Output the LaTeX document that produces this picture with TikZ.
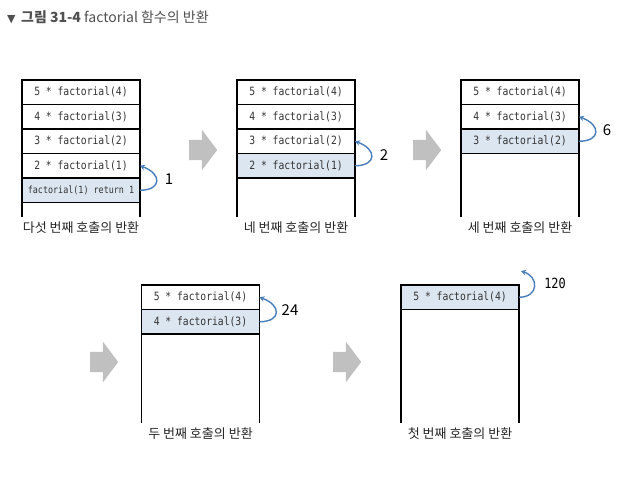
\documentclass[tikz,border=0pt]{standalone}
\usepackage{fontspec}
\usetikzlibrary{positioning}
\usetikzlibrary{arrows.meta}
\usetikzlibrary{shapes.arrows}
\newfontfamily\krfont{Noto Sans CJK KR}
\newfontfamily\codefont{DejaVu Sans Mono}[FakeStretch = 0.85]
\newfontfamily\symfont{DejaVu Sans}
\definecolor{rowblue}{RGB}{220,230,241}
\definecolor{retblue}{RGB}{74,126,187}
\definecolor{stepgray}{RGB}{192,192,192}
\definecolor{titlegray}{RGB}{80,80,80}
\tikzset{
  stackframe/.style = {inner sep = 0, outer sep = 0, minimum width = 118},
  wall/.style = {line width = 1.5},
  row/.style = {draw, line width = 1.5, inner sep = 0, outer sep = 0,
    minimum width = 118, minimum height = 24.5, text = black!80,
    font = \codefont\fontsize{11.4}{12}\selectfont},
  cur/.style = {row, fill = rowblue},
  ret/.style = {line width = 1.4, draw = retblue, -{Stealth[length = 5, width = 5.5]}},
  num/.style = {inner sep = 0, font = \krfont\fontsize{15}{15}\selectfont},
  callcap/.style = {inner sep = 0, text = black!85, font = \krfont\fontsize{13}{13}\selectfont},
  stepper/.style = {single arrow, fill = stepgray, anchor = tail,
    inner xsep = 0, inner ysep = 10, minimum height = 28, minimum width = 0,
    single arrow head extend = 10, single arrow tip angle = 106}
}
\begin{document}
\begin{tikzpicture}[x = 1pt, y = -1pt]
      \useasboundingbox (0, 0) rectangle (631, 481);
      \node [anchor = west, inner sep = 0, text = titlegray, font = \krfont\fontsize{14}{14}\selectfont] (title) at (7, 17)
        {{\symfont\fontsize{11}{11}\selectfont ▼}\, \textbf{그림 31-4} factorial 함수의 반환};

      % first row of stacks
      \node [stackframe, minimum height = 137] (s1) at (81, 148.5) {};
      \node [stackframe, minimum height = 137] (s2) at (296, 148.5) {};
      \node [stackframe, minimum height = 137] (s3) at (520, 148.5) {};
      % second row of stacks
      \node [stackframe, minimum height = 138] (s4) at (200.5, 354) {};
      \node [stackframe, minimum height = 138] (s5) at (460, 354) {};

      \foreach \s in {s1,s2,s3,s4,s5} {
        \draw [wall] (\s.south west) -- (\s.north west) -- (\s.north east) -- (\s.south east);
      }

      \node [row, anchor = north] (s1r1) at (s1.north) {5 * factorial(4)};
      \node [row, below = 0 of s1r1] (s1r2) {4 * factorial(3)};
      \node [row, below = 0 of s1r2] (s1r3) {3 * factorial(2)};
      \node [row, below = 0 of s1r3] (s1r4) {2 * factorial(1)};
      \node [cur, below = 0 of s1r4, font = \codefont\fontsize{9.9}{10}\selectfont] (s1r5) {factorial(1) return 1};

      \node [row, anchor = north] (s2r1) at (s2.north) {5 * factorial(4)};
      \node [row, below = 0 of s2r1] (s2r2) {4 * factorial(3)};
      \node [row, below = 0 of s2r2] (s2r3) {3 * factorial(2)};
      \node [cur, below = 0 of s2r3] (s2r4) {2 * factorial(1)};

      \node [row, anchor = north] (s3r1) at (s3.north) {5 * factorial(4)};
      \node [row, below = 0 of s3r1] (s3r2) {4 * factorial(3)};
      \node [cur, below = 0 of s3r2] (s3r3) {3 * factorial(2)};

      \node [row, anchor = north] (s4r1) at (s4.north) {5 * factorial(4)};
      \node [cur, below = 0 of s4r1] (s4r2) {4 * factorial(3)};

      \node [cur, anchor = north] (s5r1) at (s5.north) {5 * factorial(4)};
      \coordinate (s5top) at (521, 271);

      % returns
      \draw [ret] (s1r5.east) .. controls +(22, 0) and +(22, 8) .. (s1r4.east);
      \draw [ret] (s2r4.east) .. controls +(22, 0) and +(22, 8) .. (s2r3.east);
      \draw [ret] (s3r3.east) .. controls +(22, 0) and +(22, 8) .. (s3r2.east);
      \draw [ret] (s4r2.east) .. controls +(22, 0) and +(22, 8) .. (s4r1.east);
      \draw [ret] (s5r1.east) .. controls +(20, 0) and +(18, 6) .. (s5top);

      \node [num] (v1) at (169, 179) {1};
      \node [num] (v2) at (384, 155) {2};
      \node [num] (v3) at (607, 130) {6};
      \node [num] (v4) at (290, 310) {24};
      \node [num, font = \codefont\fontsize{14}{14}\selectfont] (v5) at (555, 283) {120};

      \node [callcap] (c1) at (81, 228) {다섯 번째 호출의 반환};
      \node [callcap] (c2) at (296, 228) {네 번째 호출의 반환};
      \node [callcap] (c3) at (520, 228) {세 번째 호출의 반환};
      \node [callcap] (c4) at (200.5, 434) {두 번째 호출의 반환};
      \node [callcap] (c5) at (460, 434) {첫 번째 호출의 반환};

      \node [stepper] (a1) at (189, 150) {};
      \node [stepper] (a2) at (413, 150) {};
      \node [stepper] (a3) at (90, 362) {};
      \node [stepper] (a4) at (333, 362) {};
    \end{tikzpicture}
\end{document}
